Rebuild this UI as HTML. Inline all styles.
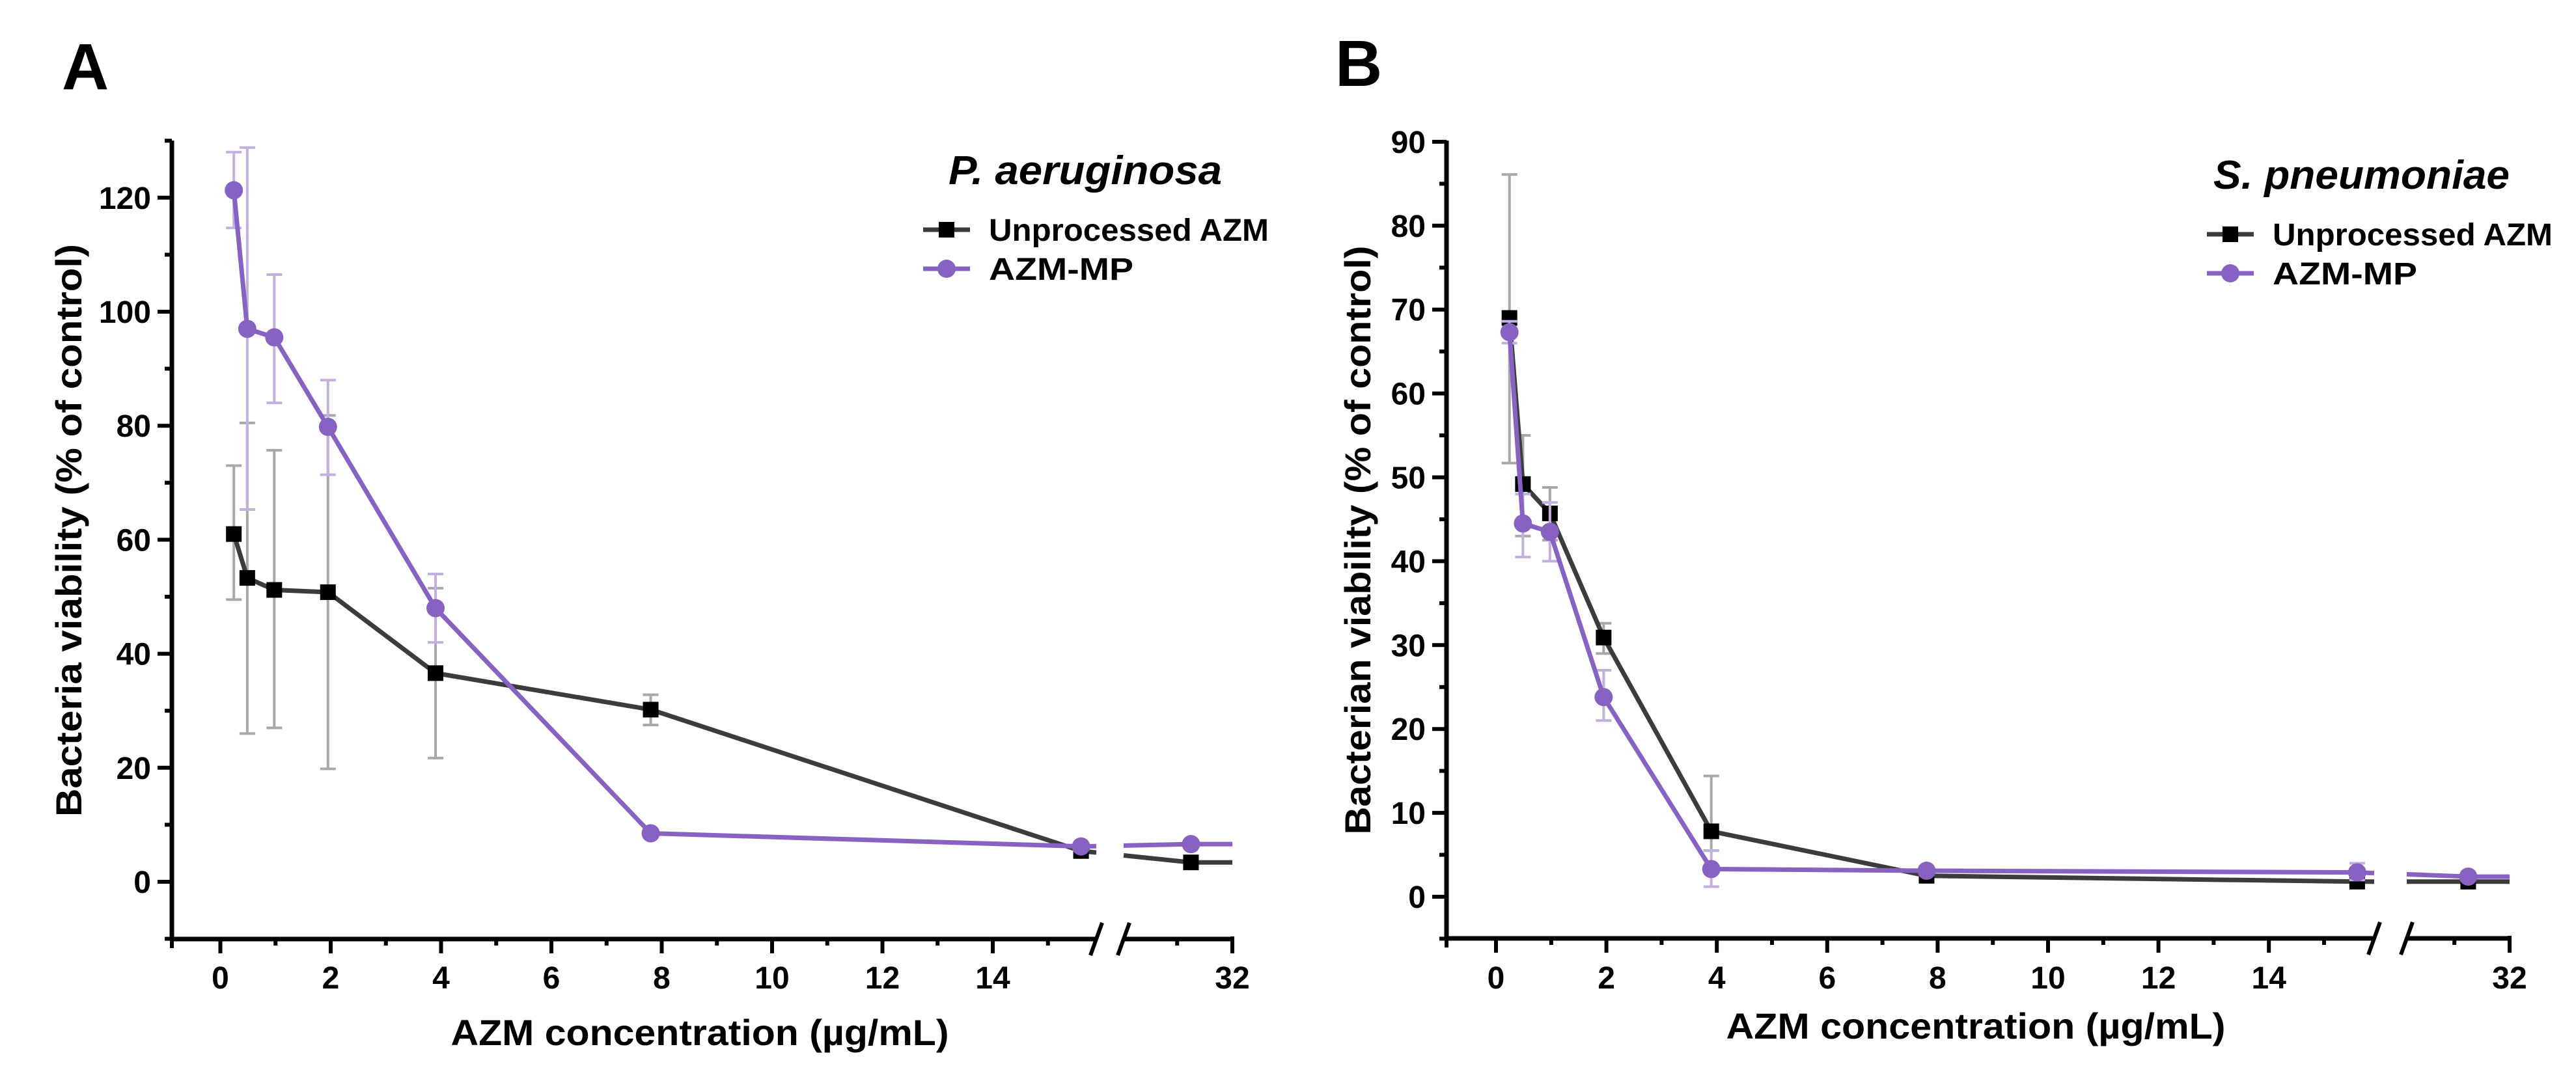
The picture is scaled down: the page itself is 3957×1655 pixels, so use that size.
<!DOCTYPE html>
<html><head><meta charset="utf-8">
<style>
html,body{margin:0;padding:0;background:#fff;}
svg{display:block;font-family:"Liberation Sans",Arial,sans-serif;}
</style></head>
<body>
<svg id="fig" width="3957" height="1655" viewBox="0 0 3957 1655" xmlns="http://www.w3.org/2000/svg">
<rect width="3957" height="1655" fill="#fff"/>
<text x="95" y="137" font-size="100" font-weight="bold">A</text>
<text x="2051" y="132" font-size="100" font-weight="bold">B</text>
</svg>
<script>
// shared x categories (concentration, µg/mL)
const concentrations = [0.244, 0.488, 0.977, 1.95, 3.9, 7.8, 15.6, 31.25];
const xTickLabels = ["0","2","4","6","8","10","12","14"];
const xTickValues = [0,2,4,6,8,10,12,14];
// Panel A: P. aeruginosa
const aUnproc = [61, 53.3, 51.2, 50.8, 36.6, 30.2, 5.4, 3.4];
const aUnprocLo = [49.5, 26, 27, 19.8, 21.7, 27.5, 4.6, 2.8];
const aUnprocHi = [73, 80.5, 75.7, 81.8, 51.5, 32.8, 6.2, 4.0];
const aMP = [121.3, 97, 95.5, 79.8, 48, 8.5, 6.2, 6.6];
const aMPLo = [114.7, 65.3, 84, 71.4, 42, 7.8, 5.6, 6.0];
const aMPHi = [128, 128.8, 106.5, 88, 54, 9.2, 6.8, 7.2];
const aYTicks = [0,20,40,60,80,100,120];
// Panel B: S. pneumoniae
const bUnproc = [69, 49.2, 45.7, 30.9, 7.8, 2.5, 1.8, 1.8];
const bUnprocLo = [51.7, 43, 42.5, 29, 5.5, 2.0, 1.4, 1.4];
const bUnprocHi = [86.1, 55, 48.8, 32.6, 14.4, 3.0, 2.2, 2.2];
const bMP = [67.3, 44.5, 43.5, 23.8, 3.3, 3.1, 2.9, 2.4];
const bMPLo = [66, 40.5, 40, 21, 1.2, 2.6, 2.0, 2.0];
const bMPHi = [68.6, 48, 47, 27, 5.5, 3.6, 4.0, 2.9];
const bYTicks = [0,10,20,30,40,50,60,70,80,90];

const NS = "http://www.w3.org/2000/svg";
const svg = document.getElementById('fig');
const PURPLE = "#8762c2", DARK = "#3c3c3c", ERRG = "#a8a8a8", ERRP = "#c2b0e0";

function mk(tag, attrs, parent){
  const e = document.createElementNS(NS, tag);
  for (const k in attrs) e.setAttribute(k, attrs[k]);
  (parent||svg).appendChild(e);
  return e;
}

function panel(cfg){
  const g = mk('g', {});
  
  
  // x mapping with break
  const X = v => v <= 16 ? cfg.x0 + v*cfg.ux : cfg.x32 - (32 - v)*cfg.ux;
  const Y = v => cfg.y0 - v*cfg.uy;
  const seg1End = cfg.breakL, seg2Start = cfg.breakR;
  const axisY = cfg.axisY;
  // y axis
  const ya = mk('line', {x1:cfg.axisX, y1:cfg.yTop, x2:cfg.axisX, y2:axisY+3, stroke:'#000','stroke-width':7}, g);
  
  
  // y ticks
  for (let v = cfg.yMin; v <= cfg.yMax + 0.001; v += cfg.yMinor){
    const major = cfg.yTicks.includes(v);
    const t = mk('line', {x1:cfg.axisX - (major?22:11), y1:Y(v), x2:cfg.axisX, y2:Y(v), stroke:'#000','stroke-width':6}, g);
    
    
  }
  cfg.yTicks.forEach(v => {
    const t = mk('text', {x:cfg.axisX - 32, y:Y(v)+17, 'font-size':48, 'font-weight':'bold', 'text-anchor':'end'}, g);
    t.textContent = String(v);
    
    
  });
  // x axis segments
  const xa1 = mk('line', {x1:cfg.axisX-3, y1:axisY, x2:seg1End, y2:axisY, stroke:'#000','stroke-width':7}, g);
  
  
  const xa2 = mk('line', {x1:seg2Start, y1:axisY, x2:cfg.x32+3, y2:axisY, stroke:'#000','stroke-width':7}, g);
  
  
  [seg1End, seg2Start].forEach(bx => {
    const s = mk('line', {x1:bx-9, y1:axisY+25, x2:bx+9, y2:axisY-25, stroke:'#000','stroke-width':6}, g);
    
    
  });
  // x ticks
  const leftTick = mk('line', {x1:cfg.axisX, y1:axisY, x2:cfg.axisX, y2:axisY+14, stroke:'#000','stroke-width':6}, g);
  
  
  for (let v = 0; v <= 15; v++){
    const major = v % 2 === 0;
    const t = mk('line', {x1:X(v), y1:axisY, x2:X(v), y2:axisY+(major?22:10), stroke:'#000','stroke-width':6}, g);
    
    
  }
  const t31 = mk('line', {x1:X(31), y1:axisY, x2:X(31), y2:axisY+10, stroke:'#000','stroke-width':6}, g);
  
  
  const t32 = mk('line', {x1:X(32), y1:axisY-4, x2:X(32), y2:axisY+22, stroke:'#000','stroke-width':6}, g);
  
  
  xTickValues.forEach((v,i) => {
    const t = mk('text', {x:X(v), y:cfg.xLabY, 'font-size':48, 'font-weight':'bold', 'text-anchor':'middle'}, g);
    t.textContent = xTickLabels[i];
    
    
  });
  const l32 = mk('text', {x:X(32), y:cfg.xLabY, 'font-size':48, 'font-weight':'bold', 'text-anchor':'middle'}, g);
  l32.textContent = "32";
  
  
  // titles
  const xt = mk('text', {x:cfg.xTitleX, y:cfg.xTitleY, 'font-size':56, 'font-weight':'bold', 'text-anchor':'middle', textLength:cfg.xTitleW, lengthAdjust:'spacingAndGlyphs'}, g);
  xt.textContent = "AZM concentration (µg/mL)";
  
  
  const yt = mk('text', {x:0, y:0, 'font-size':56, 'font-weight':'bold', 'text-anchor':'middle', textLength:cfg.yTitleW, lengthAdjust:'spacingAndGlyphs', transform:`translate(${cfg.yTitleX},${cfg.yTitleY}) rotate(-90)`}, g);
  yt.textContent = cfg.yTitle;
  
  

  // series
  function series(vals, lo, hi, color, errColor, shape, nm){
    const sg = mk('g', {}, g);
    
    
    // error bars
    vals.forEach((v,i) => {
      const x = X(concentrations[i]);
      const e = mk('path', {d:`M${x},${Y(lo[i])}V${Y(hi[i])}M${x-12},${Y(hi[i])}H${x+12}M${x-12},${Y(lo[i])}H${x+12}`, stroke:errColor, 'stroke-width':4, fill:'none'}, sg);
      
      
    });
    // line segment 1 (points 0..6) + extension toward break
    const n = vals.length;
    const xa = X(concentrations[n-2]), ya_ = Y(vals[n-2]);
    const xb = X(concentrations[n-1]), yb = Y(vals[n-1]);
    const slope = (yb-ya_)/(xb-xa);
    let d = '';
    for (let i = 0; i < n-1; i++) d += (i?'L':'M') + X(concentrations[i]) + ',' + Y(vals[i]);
    d += 'L' + seg1End + ',' + (ya_ + slope*(seg1End-xa));
    d += 'M' + seg2Start + ',' + (ya_ + slope*(seg2Start-xa));
    d += 'L' + xb + ',' + yb + 'L' + X(32) + ',' + yb;
    const ln = mk('path', {d:d, stroke:color, 'stroke-width':7, fill:'none', 'stroke-linejoin':'round'}, sg);
    
    
    vals.forEach((v,i) => {
      const x = X(concentrations[i]), y = Y(v);
      let m;
      if (shape === 'sq') m = mk('rect', {x:x-12, y:y-12, width:24, height:24, fill:'#000'}, sg);
      else m = mk('circle', {cx:x, cy:y, r:14, fill:PURPLE}, sg);
      
      
    });
  }
  series(cfg.un, cfg.unLo, cfg.unHi, DARK, ERRG, 'sq', 'series-unprocessed-azm');
  series(cfg.mp, cfg.mpLo, cfg.mpHi, PURPLE, ERRP, 'ci', 'series-azm-mp');

  // legend
  const lg = mk('g', {}, g);
  
  
  const tt = mk('text', {x:cfg.legX, y:cfg.legY, 'font-size':62, 'font-weight':'bold', 'font-style':'italic', textLength:cfg.legTitleW, lengthAdjust:'spacingAndGlyphs'}, lg);
  tt.textContent = cfg.species;
  
  
  const rows = [["Unprocessed AZM", DARK, 'sq', 0, 430], ["AZM-MP", PURPLE, 'ci', 60, 222]];
  rows.forEach(r => {
    const e = mk('g', {}, lg);
    
    
    const cy = cfg.legY + 70 + r[3];
    mk('line', {x1:cfg.legSymX-36, y1:cy, x2:cfg.legSymX+36, y2:cy, stroke:r[1], 'stroke-width':7}, e);
    if (r[2] === 'sq') mk('rect', {x:cfg.legSymX-12, y:cy-12, width:24, height:24, fill:'#000'}, e);
    else mk('circle', {cx:cfg.legSymX, cy:cy, r:14, fill:PURPLE}, e);
    const t = mk('text', {x:cfg.legSymX+65, y:cy+17, 'font-size':48, 'font-weight':'bold', textLength:r[4], lengthAdjust:'spacingAndGlyphs'}, e);
    t.textContent = r[0];
  });
}

panel({name:'panel-a-chart', x0:338.5, ux:84.75, x32:1893, breakL:1684, breakR:1726,
  axisX:264, axisY:1443, yTop:216, y0:1355, uy:8.76, yMin:-10, yMax:130, yMinor:10, yTicks:aYTicks,
  xLabY:1519, xTitleX:1075, xTitleY:1606, xTitleW:765, yTitleX:125, yTitleY:815, yTitleW:880,
  yTitle:"Bacteria viability (% of control)",
  un:aUnproc, unLo:aUnprocLo, unHi:aUnprocHi, mp:aMP, mpLo:aMPLo, mpHi:aMPHi,
  species:"P. aeruginosa", legX:1457, legY:283, legTitleW:420, legSymX:1454});

panel({name:'panel-b-chart', x0:2298, ux:84.8, x32:3855, breakL:3647, breakR:3697,
  axisX:2222, axisY:1442, yTop:216, y0:1378, uy:12.89, yMin:-5, yMax:90, yMinor:5, yTicks:bYTicks,
  xLabY:1519, xTitleX:3035, xTitleY:1596, xTitleW:767, yTitleX:2105, yTitleY:830, yTitleW:905,
  yTitle:"Bacterian viability (% of control)",
  un:bUnproc, unLo:bUnprocLo, unHi:bUnprocHi, mp:bMP, mpLo:bMPLo, mpHi:bMPHi,
  species:"S. pneumoniae", legX:3400, legY:290, legTitleW:455, legSymX:3426});
</script>
</body></html>
